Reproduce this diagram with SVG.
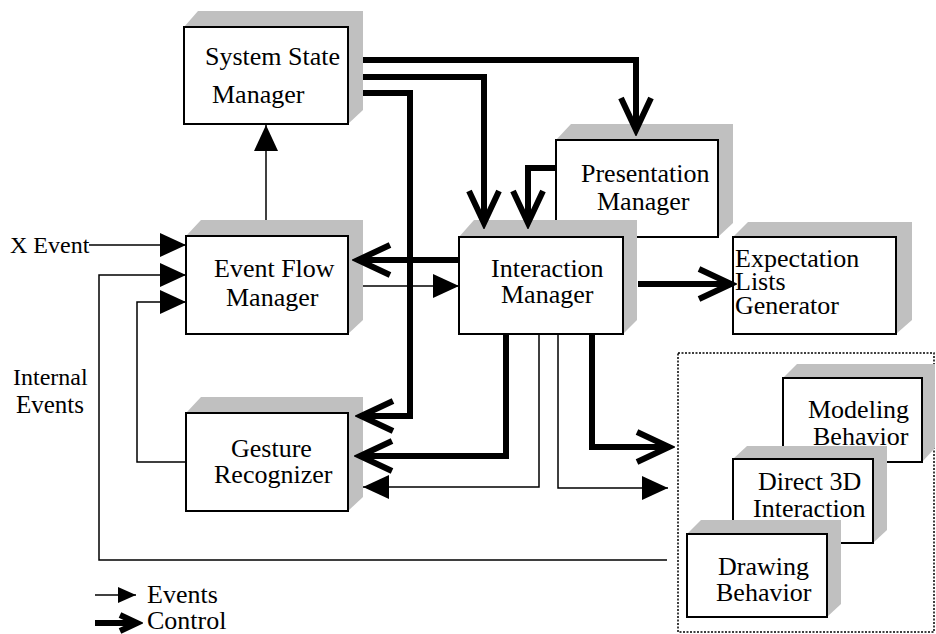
<svg xmlns="http://www.w3.org/2000/svg" width="936" height="634" viewBox="0 0 936 634">
<style>
.shade{fill:#c0c0c0;stroke:none}
.box{fill:#fff;stroke:#000;stroke-width:2}
.lbl{font-family:"Liberation Serif","Times New Roman",serif;font-size:26px;fill:#000}
.side{font-family:"Liberation Serif","Times New Roman",serif;fill:#000}
.ev{fill:none;stroke:#000;stroke-width:1.5}
.ct{fill:none;stroke:#000;stroke-width:6;stroke-linejoin:miter}
</style>
<defs>
<marker id="tri" markerUnits="userSpaceOnUse" viewBox="-28 -14 30 28" refX="0" refY="0" markerWidth="30" markerHeight="28" orient="auto">
<path d="M-26,-12 L0,0 L-26,12 Z" fill="#000"/>
</marker>
<marker id="trismall" markerUnits="userSpaceOnUse" viewBox="-20 -10 22 20" refX="0" refY="0" markerWidth="22" markerHeight="20" orient="auto">
<path d="M-18,-8 L0,0 L-18,8 Z" fill="#000"/>
</marker>
<marker id="chev" markerUnits="userSpaceOnUse" viewBox="-40 -22 46 44" refX="0" refY="0" markerWidth="46" markerHeight="44" orient="auto">
<path d="M-32,-15 L0,0 L-32,15" fill="none" stroke="#000" stroke-width="6" stroke-linejoin="miter"/>
</marker>
<marker id="chevsmall" markerUnits="userSpaceOnUse" viewBox="-26 -16 32 32" refX="0" refY="0" markerWidth="32" markerHeight="32" orient="auto">
<path d="M-17,-8 L0,0 L-17,8" fill="none" stroke="#000" stroke-width="6" stroke-linejoin="miter"/>
</marker>
</defs>

<rect x="0" y="0" width="936" height="634" fill="#fff"/>

<g id="system-state-manager">
<polygon class="shade" points="184,27 198,11 363,11 363,110 348,124"/>
<rect class="box" x="184" y="27" width="164" height="97"/>
<text class="lbl" x="205" y="65">System State</text>
<text class="lbl" x="212" y="103">Manager</text>
</g>

<g id="presentation-manager">
<polygon class="shade" points="556,140 571,124 733,124 733,223 718,237"/>
<rect class="box" x="556" y="140" width="162" height="97"/>
<text class="lbl" x="581" y="182">Presentation</text>
<text class="lbl" x="597" y="210">Manager</text>
</g>

<g id="event-flow-manager">
<polygon class="shade" points="186,236 201,220 363,220 363,320 348,334"/>
<rect class="box" x="186" y="236" width="162" height="98"/>
<text class="lbl" x="214" y="277">Event Flow</text>
<text class="lbl" x="226" y="306">Manager</text>
</g>

<g id="interaction-manager">
<polygon class="shade" points="459,237 474,220 637,220 637,320 623,334"/>
<rect class="box" x="459" y="237" width="164" height="97"/>
<text class="lbl" x="491" y="277">Interaction</text>
<text class="lbl" x="501" y="303">Manager</text>
</g>

<g id="expectation-lists-generator">
<polygon class="shade" points="733,237 748,222 912,222 912,320 896,334"/>
<rect class="box" x="733" y="237" width="163" height="97"/>
<text class="lbl" x="735" y="267">Expectation</text>
<text class="lbl" x="735" y="290">Lists</text>
<text class="lbl" x="735" y="314">Generator</text>
</g>

<g id="gesture-recognizer">
<polygon class="shade" points="186,413 201,397 363,397 363,497 348,511"/>
<rect class="box" x="186" y="413" width="162" height="98"/>
<text class="lbl" x="231" y="457">Gesture</text>
<text class="lbl" x="214" y="483">Recognizer</text>
</g>

<g id="behaviors-group">
<rect x="678" y="353" width="256" height="279" fill="none" stroke="#000" stroke-width="1.5" stroke-dasharray="2,1.5"/>
</g>

<g id="modeling-behavior">
<polygon class="shade" points="783,378 797,364 935,364 935,448 922,462"/>
<rect class="box" x="783" y="378" width="139" height="84"/>
<text class="lbl" x="808" y="418">Modeling</text>
<text class="lbl" x="813" y="445">Behavior</text>
</g>

<g id="direct-3d-interaction">
<polygon class="shade" points="733,459 747,446 887,446 887,530 873,543"/>
<rect class="box" x="733" y="459" width="140" height="84"/>
<text class="lbl" x="758" y="490">Direct 3D</text>
<text class="lbl" x="753" y="517">Interaction</text>
</g>

<g id="drawing-behavior">
<polygon class="shade" points="687,534 701,520 841,520 841,604 827,617"/>
<rect class="box" x="687" y="534" width="140" height="83"/>
<text class="lbl" x="718" y="575">Drawing</text>
<text class="lbl" x="716" y="601">Behavior</text>
</g>

<g id="labels">
<text class="side" x="10" y="253" font-size="24">X Event</text>
<text class="side" x="13" y="385" font-size="24">Internal</text>
<text class="side" x="16" y="413" font-size="25">Events</text>
</g>

<g id="connectors">
<path class="ev" d="M266,220 V125" marker-end="url(#tri)"/>
<path class="ev" d="M89,245 H186" marker-end="url(#tri)"/>
<path class="ev" d="M667,560 H99 V275 H186" marker-end="url(#tri)"/>
<path class="ev" d="M186,462 H137 V302 H186" marker-end="url(#tri)"/>
<path class="ev" d="M363,286 H459" marker-end="url(#tri)"/>
<path class="ev" d="M539,334 V487 H363" marker-end="url(#tri)"/>
<path class="ev" d="M558,334 V488 H668" marker-end="url(#tri)"/>

<path class="ct" d="M363,60 H636 V130" marker-end="url(#chev)"/>
<path class="ct" d="M363,77 H484 V223" marker-end="url(#chev)"/>
<path class="ct" d="M363,93 H410 V416 H361" marker-end="url(#chev)"/>
<path class="ct" d="M556,168 H528 V223" marker-end="url(#chev)"/>
<path class="ct" d="M459,260 H358" marker-end="url(#chev)"/>
<path class="ct" d="M638,284 H731" marker-end="url(#chev)"/>
<path class="ct" d="M506,334 V456 H360" marker-end="url(#chev)"/>
<path class="ct" d="M592,334 V447 H669" marker-end="url(#chev)"/>
</g>

<g id="legend">
<path class="ev" d="M95,595 H136" marker-end="url(#trismall)"/>
<text class="lbl" x="147" y="603">Events</text>
<path class="ct" d="M95,623 H137" marker-end="url(#chevsmall)"/>
<text class="lbl" x="147" y="629">Control</text>
</g>
</svg>
